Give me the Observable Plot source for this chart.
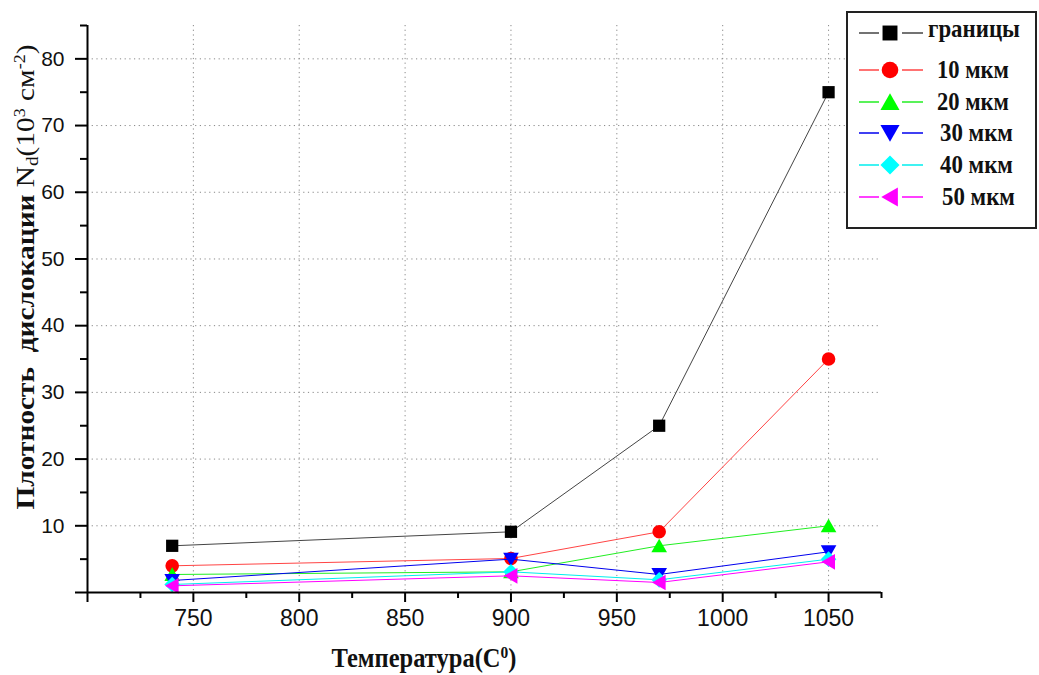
<!DOCTYPE html>
<html><head><meta charset="utf-8">
<script src="https://cdn.jsdelivr.net/npm/d3@7"></script>
<script src="https://cdn.jsdelivr.net/npm/@observablehq/plot@0.6"></script>
<style>body{margin:0;background:#fff} #chart{width:1039px;height:675px}</style>
</head><body><div id="chart"></div>
<script>
// ---- data ----
const temps = [740, 900, 970, 1050];
const seriesNames = ["границы", "10 мкм", "20 мкм", "30 мкм", "40 мкм", "50 мкм"];
const granitsy = [7, 9.1, 25, 75];
const mkm10 = [4, 5.1, 9.1, 35];
const mkm20 = [2.7, 3.1, 7, 10];
const mkm30 = [1.8, 5, 2.7, 6.1];
const mkm40 = [1.2, 3.1, 1.9, 5];
const mkm50 = [1, 2.5, 1.5, 4.6];
const xTicks = [750, 800, 850, 900, 950, 1000, 1050];
const yTicks = [10, 20, 30, 40, 50, 60, 70, 80];
const xTitle = "Температура(C";
const yTitleBold = "Плотность  дислокации ";

const values = [granitsy, mkm10, mkm20, mkm30, mkm40, mkm50];
const fills = ["#000000", "#ff0000", "#00ff00", "#0000ff", "#00ffff", "#ff00ff"];
const strokes = ["#444444", "#ff4444", "#22ee22", "#0000ee", "#00eeee", "#ff00ff"];

// ---- symbols ----
const rad = s => Math.sqrt(s / Math.PI);
const symSquare = {draw(c, s) {const a = rad(s) * 0.9; c.rect(-a, -a, 2 * a, 2 * a);}};
const symCircle = {draw(c, s) {const a = rad(s); c.moveTo(a, 0); c.arc(0, 0, a, 0, 2 * Math.PI);}};
const symUp = {draw(c, s) {const a = rad(s); c.moveTo(0, -a * 1.05); c.lineTo(a * 1.15, a * 0.95); c.lineTo(-a * 1.15, a * 0.95); c.closePath();}};
const symDown = {draw(c, s) {const a = rad(s); c.moveTo(0, a * 1.05); c.lineTo(a * 1.15, -a * 0.95); c.lineTo(-a * 1.15, -a * 0.95); c.closePath();}};
const symDiamond = {draw(c, s) {const a = rad(s) * 1.15; c.moveTo(0, -a); c.lineTo(a, 0); c.lineTo(0, a); c.lineTo(-a, 0); c.closePath();}};
const symLeft = {draw(c, s) {const a = rad(s); c.moveTo(-a * 1.05, 0); c.lineTo(a * 0.95, -a * 1.15); c.lineTo(a * 0.95, a * 1.15); c.closePath();}};
const symbols = [symSquare, symCircle, symUp, symDown, symDiamond, symLeft];

const rows = seriesNames.map((s, i) => temps.map((t, j) => ({series: s, t, v: values[i][j]})));

const seriesMarks = seriesNames.flatMap((s, i) => [
  Plot.line(rows[i], {x: "t", y: "v", stroke: strokes[i], strokeWidth: 1}),
  Plot.dot(rows[i], {x: "t", y: "v", symbol: symbols[i], fill: fills[i], stroke: "none", r: 6.8})
]);

const gridStyle = {stroke: "#888", strokeOpacity: 1, strokeDasharray: "1.2,3.5", strokeWidth: 1};

const chart = Plot.plot({
  width: 1039, height: 675,
  marginLeft: 87, marginRight: 158, marginTop: 25, marginBottom: 83,
  style: {fontFamily: "'Liberation Sans', Arial, sans-serif", background: "white", overflow: "visible"},
  x: {domain: [700, 1075]},
  y: {domain: [0, 85]},
  marks: [
    Plot.gridY(yTicks, gridStyle),
    Plot.gridX(xTicks, gridStyle),
    ...seriesMarks,
    Plot.axisX([700, ...xTicks], {tickSize: 10, tickPadding: 7, strokeWidth: 2, fontSize: 23, tickFormat: d => d === 700 ? "" : String(d), label: null, fill: "#111"}),
    Plot.axisX(d3.range(725, 1076, 50), {tickSize: 6, strokeWidth: 2, tickFormat: () => "", label: null}),
    Plot.axisY([0, ...yTicks], {tickSize: 12, tickPadding: 11, strokeWidth: 2, fontSize: 21, tickFormat: d => d === 0 ? "" : String(d), label: null, fill: "#111"}),
    Plot.axisY(d3.range(5, 86, 10), {tickSize: 7, strokeWidth: 2, tickFormat: () => "", label: null}),
    Plot.ruleX([700], {y1: 0, y2: 85, strokeWidth: 2}),
    Plot.ruleY([0], {x1: 700, x2: 1075, strokeWidth: 2})
  ]
});
document.getElementById("chart").appendChild(chart);

const svg = d3.select(chart);
const serif = "'Liberation Serif', 'Times New Roman', serif";

// fit a text horizontally to a target width by scaling its group
function fit(g, text, targetW) {
  const w = text.node().getBBox().width;
  const k = targetW / w;
  g.attr("transform", `${g.attr("data-tr")} scale(${k},1)`);
}

// x title
const xg = svg.append("g").attr("data-tr", "translate(424,667)");
const xt = xg.append("text").attr("text-anchor", "middle")
  .attr("font-family", serif).attr("font-weight", "bold").attr("font-size", 27).attr("fill", "#111");
xt.append("tspan").text(xTitle);
xt.append("tspan").attr("font-size", 17).attr("baseline-shift", "55%").text("0");
xt.append("tspan").text(")");
fit(xg, xt, 185);

// y title
const yg = svg.append("g").attr("transform", "translate(34,277) rotate(-90)");
const yt = yg.append("text").attr("text-anchor", "middle")
  .attr("font-family", serif).attr("font-size", 26).attr("fill", "#111");
yt.append("tspan").attr("font-weight", "bold").text(yTitleBold);
yt.append("tspan").text("N");
yt.append("tspan").attr("font-size", 17).attr("baseline-shift", "-20%").text("d");
yt.append("tspan").text("(10");
yt.append("tspan").attr("font-size", 16).attr("baseline-shift", "60%").text("3");
yt.append("tspan").text(" см");
yt.append("tspan").attr("font-size", 16).attr("baseline-shift", "60%").text("-2");
yt.append("tspan").text(")");
{
  const w = yt.node().getBBox().width;
  yg.attr("transform", `translate(34,277) rotate(-90) scale(${465 / w},1)`);
}

// legend
const lg = svg.append("g");
lg.append("rect").attr("x", 847).attr("y", 12).attr("width", 189).attr("height", 216)
  .attr("fill", "white").attr("stroke", "#222").attr("stroke-width", 2);
const rowY = [33, 70, 102, 133, 165, 197];
const textX = [928, 937, 937, 940, 940, 942];
const textW = [92, 72, 72, 73, 73, 73];
seriesNames.forEach((s, i) => {
  const y = rowY[i];
  lg.append("line").attr("x1", 859).attr("x2", 879).attr("y1", y).attr("y2", y).attr("stroke", strokes[i]).attr("stroke-width", 1.5);
  lg.append("line").attr("x1", 902).attr("x2", 923).attr("y1", y).attr("y2", y).attr("stroke", strokes[i]).attr("stroke-width", 1.5);
  lg.append("path").attr("transform", `translate(890,${y})`).attr("d", d3.symbol(symbols[i], 8.3 * 8.3 * Math.PI)()).attr("fill", fills[i]);
  const tg = lg.append("g").attr("data-tr", `translate(${textX[i]},${y + (i === 0 ? 4 : 8)})`);
  const t = tg.append("text").attr("text-anchor", "start").attr("font-family", serif).attr("font-weight", "bold")
    .attr("font-size", 26).attr("fill", "#111").text(s);
  fit(tg, t, textW[i]);
});
</script>
</body></html>
